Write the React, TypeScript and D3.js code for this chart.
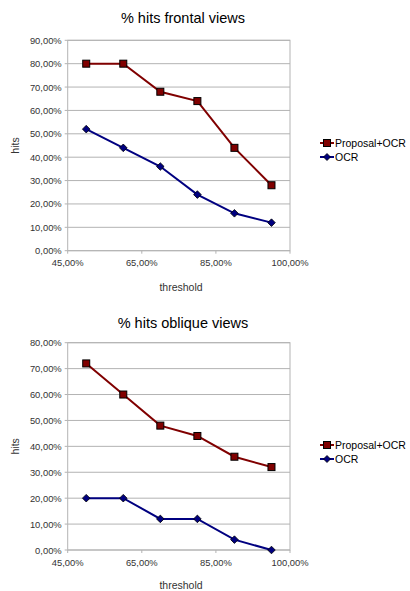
import React from "react";
import * as d3 from "d3";

const thresholds = [50, 60, 70, 80, 90, 100];
const frontalProposal = [80, 80, 68, 64, 44, 28];
const frontalOCR = [52, 44, 36, 24, 16, 12];
const obliqueProposal = [72, 60, 48, 44, 36, 32];
const obliqueOCR = [20, 20, 12, 12, 4, 0];
const xTickValues = [45, 65, 85, 105];
const xTickLabels = ["45,00%", "65,00%", "85,00%", "100,00%"];
const seriesNames = ["Proposal+OCR", "OCR"];
const titles = ["% hits frontal views", "% hits oblique views"];
const yMaxes = [90, 80];

const RED = "#800000";
const BLUE = "#000080";
const GRID = "#b3b3b3";
const FONT = "'Liberation Sans', Arial, sans-serif";

const fmt = (v: number) => v.toFixed(2).replace(".", ",") + "%";

function Chart({ title, yMax, prop, ocr, top, bottom, titleY, xTitleY, legendY }: any) {
  const left = 67.7;
  const right = 290;
  const x = d3.scaleLinear().domain([45, 105]).range([left, right]);
  const y = d3.scaleLinear().domain([0, yMax]).range([bottom, top]);
  const yTicks = d3.range(0, yMax + 1, 10);
  const line = d3
    .line<number>()
    .x((_, i) => x(thresholds[i]))
    .y((d) => y(d));
  const sq = 7;
  const diamond = (cx: number, cy: number, r: number) =>
    `M${cx},${cy - r}L${cx + r},${cy}L${cx},${cy + r}L${cx - r},${cy}Z`;
  return (
    <g fontFamily={FONT}>
      <text x={183} y={titleY} textAnchor="middle" dominantBaseline="central" fontSize={14.5} fill="#000">
        {title}
      </text>
      {yTicks.map((t) => (
        <g key={t}>
          <line x1={left} x2={right} y1={y(t)} y2={y(t)} stroke={GRID} strokeWidth={1} />
          <line x1={left - 3} x2={left} y1={y(t)} y2={y(t)} stroke={GRID} strokeWidth={1} />
          <text x={left - 6} y={y(t)} textAnchor="end" dominantBaseline="central" fontSize={9.4} fill="#333">
            {fmt(t)}
          </text>
        </g>
      ))}
      <rect x={left} y={top} width={right - left} height={bottom - top} fill="none" stroke={GRID} strokeWidth={1} />
      {xTickValues.map((t, i) => (
        <g key={t}>
          <line x1={x(t)} x2={x(t)} y1={bottom} y2={bottom + 3} stroke={GRID} strokeWidth={1} />
          <text x={x(t)} y={bottom + 12} textAnchor="middle" dominantBaseline="central" fontSize={9.4} fill="#333">
            {xTickLabels[i]}
          </text>
        </g>
      ))}
      <text
        transform={`translate(15,${(top + bottom) / 2}) rotate(-90)`}
        textAnchor="middle"
        dominantBaseline="central"
        fontSize={10.5}
        fill="#333"
      >
        hits
      </text>
      <text x={181} y={xTitleY} textAnchor="middle" dominantBaseline="central" fontSize={10.5} fill="#333">
        threshold
      </text>
      <path d={line(prop) || ""} fill="none" stroke={RED} strokeWidth={2} />
      <path d={line(ocr) || ""} fill="none" stroke={BLUE} strokeWidth={2} />
      {prop.map((v: number, i: number) => (
        <rect
          key={"p" + i}
          x={x(thresholds[i]) - sq / 2}
          y={y(v) - sq / 2}
          width={sq}
          height={sq}
          fill={RED}
          stroke="#000"
          strokeWidth={1}
        />
      ))}
      {ocr.map((v: number, i: number) => (
        <path key={"o" + i} d={diamond(x(thresholds[i]), y(v), 3.8)} fill={BLUE} stroke="#000" strokeWidth={0.8} />
      ))}
      {/* legend */}
      <g>
        <line x1={320} x2={334} y1={legendY} y2={legendY} stroke={RED} strokeWidth={2} />
        <rect x={327 - 3.5} y={legendY - 3.5} width={7} height={7} fill={RED} stroke="#000" strokeWidth={1} />
        <text x={335} y={legendY} dominantBaseline="central" fontSize={10.5} fill="#000">
          {seriesNames[0]}
        </text>
        <line x1={320} x2={334} y1={legendY + 14} y2={legendY + 14} stroke={BLUE} strokeWidth={2} />
        <path d={diamond(327, legendY + 14, 3.5)} fill={BLUE} stroke="#000" strokeWidth={0.8} />
        <text x={335} y={legendY + 14} dominantBaseline="central" fontSize={10.5} fill="#000">
          {seriesNames[1]}
        </text>
      </g>
    </g>
  );
}

export default function App() {
  return (
    <svg
      width={410}
      height={591}
      style={{ position: "absolute", left: 0, top: 0, background: "#fff" }}
    >
      <rect width={410} height={591} fill="#fff" />
      <Chart
        title={titles[0]}
        yMax={yMaxes[0]}
        prop={frontalProposal}
        ocr={frontalOCR}
        top={40.3}
        bottom={250.7}
        titleY={18}
        xTitleY={286.7}
        legendY={143}
      />
      <Chart
        title={titles[1]}
        yMax={yMaxes[1]}
        prop={obliqueProposal}
        ocr={obliqueOCR}
        top={342.7}
        bottom={550}
        titleY={323}
        xTitleY={585}
        legendY={445}
      />
    </svg>
  );
}
